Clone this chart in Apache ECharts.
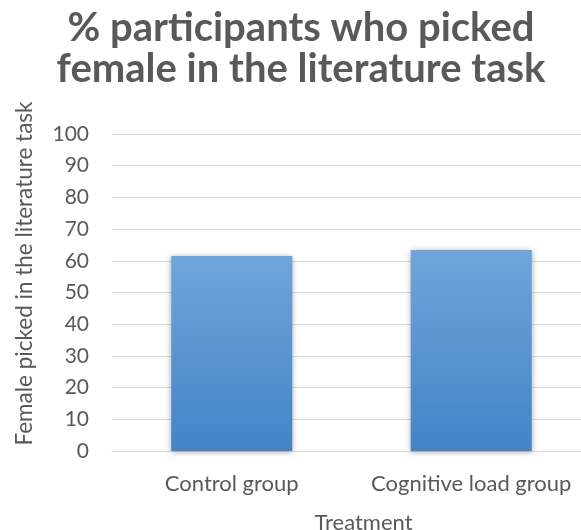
<!DOCTYPE html>
<html>
<head>
<meta charset="utf-8">
<script src="https://cdn.jsdelivr.net/npm/echarts@6/dist/echarts.min.js"></script>
<style>
  html, body { margin: 0; padding: 0; background: #fff; }
  #chart { width: 581px; height: 530px; }
</style>
</head>
<body>
<div id="chart"></div>
<script>
// Share of participants picking a female name, by treatment group
const categories = ['Control group', 'Cognitive load group'];
const femalePicked = [61.5, 63.4];
const yTicks = { min: 0, max: 100, interval: 10 };

const FONT = 'Lato, "Open Sans", sans-serif';
const TEXT = '#595959';

const chart = echarts.init(document.getElementById('chart'), null, { renderer: 'canvas' });

chart.setOption({
  animation: false,
  backgroundColor: '#ffffff',
  title: {
    text: '% participants who picked\nfemale in the literature task',
    left: 296,
    textAlign: 'center',
    top: 3,
    textStyle: {
      fontFamily: FONT,
      fontWeight: 'bold',
      fontSize: 40,
      lineHeight: 41,
      color: TEXT
    }
  },
  grid: { left: 112, top: 134, width: 479, height: 317, outerBoundsMode: 'none' },
  xAxis: {
    type: 'category',
    data: categories,
    name: 'Treatment',
    nameLocation: 'middle',
    nameGap: 61,
    nameTextStyle: { fontFamily: FONT, fontSize: 22, color: TEXT, padding: [0, 0, 0, 24] },
    axisLine: { lineStyle: { color: '#d9d9d9', width: 1 } },
    axisTick: { show: false },
    axisLabel: { fontFamily: FONT, fontSize: 22, color: TEXT, margin: 22, interval: 0 }
  },
  yAxis: {
    type: 'value',
    min: yTicks.min,
    max: yTicks.max,
    interval: yTicks.interval,
    name: 'Female picked in the literature task',
    nameLocation: 'middle',
    nameGap: 76,
    nameTextStyle: { fontFamily: FONT, fontSize: 22.5, color: TEXT, padding: [0, 0, 0, 38] },
    axisLine: { show: false },
    axisTick: { show: false },
    splitLine: { lineStyle: { color: '#d9d9d9', width: 1 } },
    axisLabel: { fontFamily: FONT, fontSize: 21, color: TEXT, margin: 23 }
  },
  series: [{
    type: 'bar',
    data: femalePicked,
    barWidth: 121,
    itemStyle: {
      color: new echarts.graphic.LinearGradient(0, 0, 0, 1, [
        { offset: 0, color: '#6fa5da' },
        { offset: 1, color: '#4384c7' }
      ]),
      shadowColor: 'rgba(0,0,0,0.35)',
      shadowBlur: 6,
      shadowOffsetX: 0,
      shadowOffsetY: 1
    }
  }]
});
</script>
</body>
</html>
